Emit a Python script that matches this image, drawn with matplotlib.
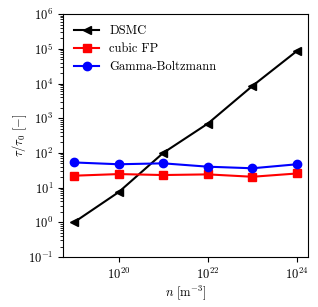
import matplotlib
matplotlib.use("Agg")
import matplotlib.pyplot as plt
import matplotlib.ticker as mticker

plt.rcParams['font.family'] = 'serif'
plt.rcParams['font.serif'] = ['cmr10']
plt.rcParams['mathtext.fontset'] = 'cm'
plt.rcParams['axes.formatter.use_mathtext'] = True
plt.rcParams['axes.unicode_minus'] = False

n = [1e19, 1e20, 1e21, 1e22, 1e23, 1e24]
dsmc = [1.0, 7.4, 100, 700, 8500, 87000]
cubic_fp = [22, 24.5, 23, 24, 20.5, 25.5]
gamma_boltzmann = [53, 47, 50, 40, 36, 47]
xticks = [1e20, 1e22, 1e24]

fig = plt.figure(figsize=(3.18, 3.07), dpi=100)
ax = fig.add_axes([0.198, 0.163, 0.771, 0.791])
ax.plot(n, dsmc, '-<', color='black', lw=1.5, ms=6, label='DSMC')
ax.plot(n, cubic_fp, '-s', color='red', lw=1.5, ms=6, label='cubic FP')
ax.plot(n, gamma_boltzmann, '-o', color='blue', lw=1.5, ms=6, label='Gamma-Boltzmann')
ax.set_xscale('log')
ax.set_yscale('log')
ax.set_ylim(1e-1, 1e6)
ax.set_xticks(xticks)
ax.xaxis.set_minor_locator(mticker.NullLocator())
ax.yaxis.set_major_locator(mticker.LogLocator(base=10, numticks=20))
ax.tick_params(labelsize=9)
ax.set_xlabel(r'$n\ [\mathrm{m}^{-3}]$', fontsize=9, labelpad=1)
ax.set_ylabel(r'$\tau/\tau_0\ [-]$', fontsize=9, labelpad=-1)
ax.legend(frameon=False, fontsize=9, loc='upper left', labelspacing=0.45)
fig.savefig('out.png', dpi=100)
